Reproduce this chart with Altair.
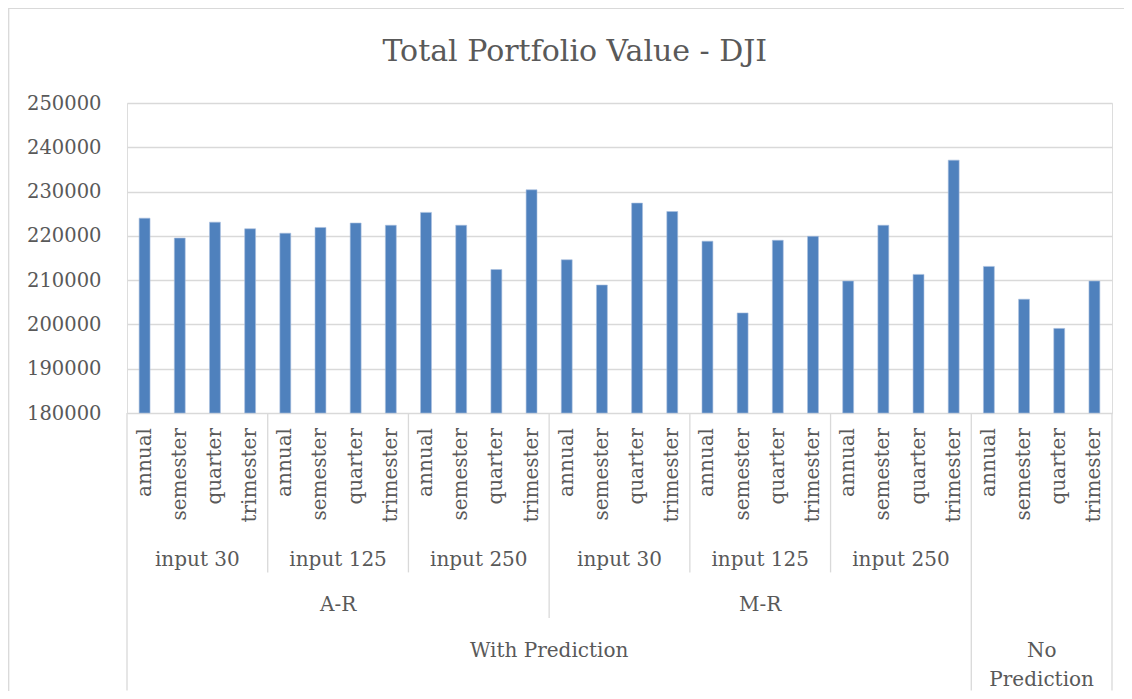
import altair as alt
import pandas as pd

# ---------------- data ----------------
periods = ["annual", "semester", "quarter", "trimester"]
input_groups = ["input 30", "input 125", "input 250",
                "input 30", "input 125", "input 250", ""]
model_groups = ["A-R", "M-R", ""]
model_sizes = [3, 3, 1]            # input groups per model group
pred_groups = ["With Prediction", "No\nPrediction"]
pred_sizes = [2, 1]                # model groups per prediction group

values = [224000, 219500, 223100, 221600,
          220600, 221900, 222900, 222400,
          225300, 222400, 212400, 230400,
          214600, 208900, 227400, 225500,
          218800, 202600, 219000, 219900,
          209800, 222400, 211300, 237100,
          213100, 205700, 199100, 209800]

y_ticks = [180000, 190000, 200000, 210000, 220000, 230000, 240000, 250000]
title_text = "Total Portfolio Value - DJI"

# ---------------- tables ----------------
n_per = len(periods)
rows = []
for i, v in enumerate(values):
    rows.append({"idx": i, "period": periods[i % n_per],
                 "input": input_groups[i // n_per], "value": v})
df = pd.DataFrame(rows)
n_cat = len(values)

# input level spans
inp_rows = []
for g, name in enumerate(input_groups):
    s, e = g * n_per, (g + 1) * n_per
    if name:
        inp_rows.append({"label": name, "pos": (s + e) / 2})
inp_df = pd.DataFrame(inp_rows)

# model level spans
mod_rows, mod_bounds = [], []
start = 0
for name, size in zip(model_groups, model_sizes):
    s, e = start * n_per, (start + size) * n_per
    if name:
        mod_rows.append({"label": name, "pos": (s + e) / 2})
    start += size
mod_df = pd.DataFrame(mod_rows)

# prediction level spans
pred_rows = []
mstart = 0
cat_start = 0
pred_bounds = [0]
for name, size in zip(pred_groups, pred_sizes):
    ncat = sum(model_sizes[mstart:mstart + size]) * n_per
    pred_rows.append({"label": name, "pos": cat_start + ncat / 2})
    cat_start += ncat
    mstart += size
    pred_bounds.append(cat_start)
pred_df = pd.DataFrame(pred_rows)

# separator lines
# input separators (inside model groups), model separators, outer separators
bounds = []
start = 0
for name, size in zip(model_groups, model_sizes):
    if name and size > 1:
        for k in range(1, size):
            bounds.append({"pos": (start + k) * n_per, "level": "input"})
    start += size
start = 0
mstart = 0
for name, size in zip(pred_groups, pred_sizes):
    msum = 0
    for k in range(size - 1):
        msum += model_sizes[mstart + k]
        bounds.append({"pos": (start + msum) * n_per, "level": "model"})
    start += sum(model_sizes[mstart:mstart + size])
    mstart += size
for b in pred_bounds:
    bounds.append({"pos": b, "level": "outer"})
bnd_df = pd.DataFrame(bounds)

# ---------------- styling ----------------
FONT = "DejaVu Serif"
TXT = "#595959"
LINE = "#d9d9d9"
BAR = "#4F81BD"
W, H = 985, 310

xscale = alt.Scale(domain=[0, n_cat], nice=False, zero=False)
yscale = alt.Scale(domain=[y_ticks[0], y_ticks[-1]], nice=False, zero=False)

base = alt.Chart(df)

bars = base.transform_calculate(
    x0="datum.idx + 0.345", x1="datum.idx + 0.655"
).mark_bar(color=BAR, stroke="#a9c0df", strokeWidth=0.6).encode(
    x=alt.X("x0:Q", scale=xscale, axis=None),
    x2="x1:Q",
    y=alt.Y("value:Q", scale=yscale,
            axis=alt.Axis(values=y_ticks, format="d", domain=False, ticks=False,
                          labelFont=FONT, labelFontSize=19.5, labelColor=TXT,
                          labelPadding=26, gridColor=LINE, gridWidth=1.3,
                          title=None)),
    y2=alt.datum(y_ticks[0]),
)

cat_labels = base.transform_calculate(
    xc="datum.idx + 0.5"
).mark_text(angle=270, align="right", baseline="middle", font=FONT,
            fontSize=20, color=TXT).encode(
    x=alt.X("xc:Q", scale=xscale, axis=None),
    y=alt.value(325),
    text="period:N",
)

def sep(level, end):
    return alt.Chart(bnd_df).transform_filter(
        alt.datum.level == level
    ).mark_rule(color=LINE, strokeWidth=1.3).encode(
        x=alt.X("pos:Q", scale=xscale, axis=None),
        y=alt.value(H),
        y2=alt.value(end),
    )

sep_input = sep("input", 469.4)
sep_model = sep("model", 515)
sep_outer = sep("outer", 587.4)

def group_text(d, y):
    return alt.Chart(d).mark_text(align="center", baseline="alphabetic",
                                  font=FONT, fontSize=20, color=TXT,
                                  lineBreak="\n", lineHeight=29).encode(
        x=alt.X("pos:Q", scale=xscale, axis=None),
        y=alt.value(y),
        text="label:N",
    )

inp_text = group_text(inp_df, 463.4)
mod_text = group_text(mod_df, 507.7)
pred_text = group_text(pred_df, 554)

title = alt.Chart(pd.DataFrame({"t": [title_text]})).mark_text(
    align="center", baseline="alphabetic", font=FONT, fontSize=30, color=TXT
).encode(
    x=alt.value(447.8), y=alt.value(-41.6), text="t:N"
)

border = alt.Chart(pd.DataFrame({"t": [title_text]})).mark_rect(
    fill=None, stroke=LINE, strokeWidth=1.3
).encode(
    x=alt.value(-118.3), x2=alt.value(W + 200),
    y=alt.value(-94.6), y2=alt.value(H + 400),
)

chart = alt.layer(
    border, bars, cat_labels, sep_input, sep_model, sep_outer,
    inp_text, mod_text, pred_text, title
).properties(
    width=W, height=H,
    autosize=alt.AutoSizeParams(type="none"),
    padding={"left": 119, "top": 95, "right": 12, "bottom": 278},
).configure_view(stroke=None).configure(background="white")

chart.save("out.html", embed_options={"renderer": "svg", "actions": False})
